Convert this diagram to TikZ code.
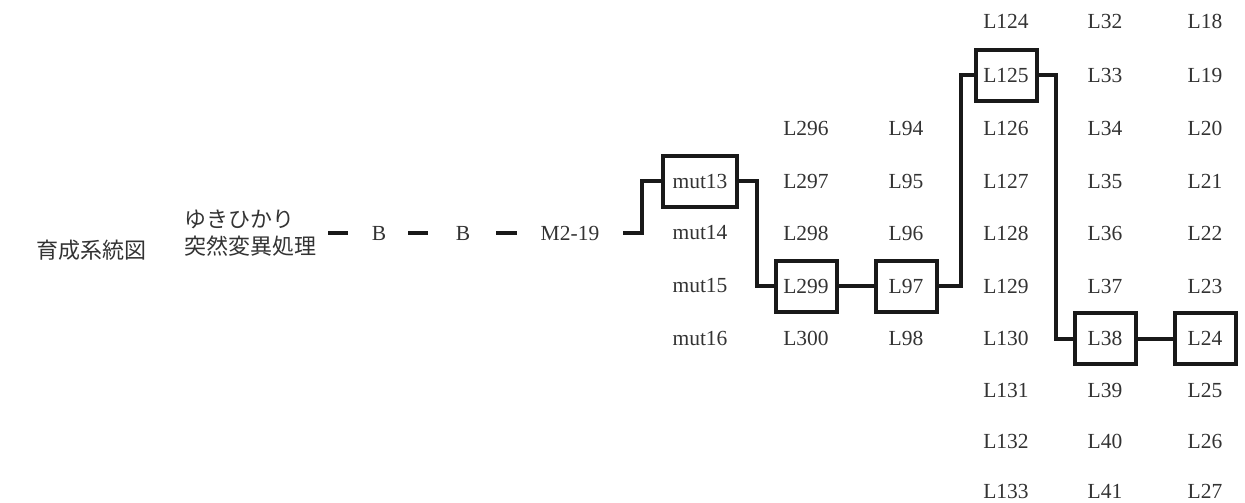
\documentclass[tikz,border=0pt]{standalone}
\usepackage{fontspec}
\setmainfont{Liberation Serif}
\newfontfamily\cjk{Noto Sans CJK JP}
\begin{document}
\begin{tikzpicture}[x=1pt,y=-1pt,
  lbl/.style={inner sep=0pt,text=black!80,font=\fontsize{21.5}{21.5}\selectfont},
  jp/.style={inner sep=0pt,text=black!80,font=\cjk\fontsize{22}{27}\selectfont},
  sel/.style={lbl,draw=black!90,line width=4pt,minimum width=61pt,minimum height=51pt},
  conn/.style={draw=black!90,line width=4pt},
  dsh/.style={draw=black!90,line width=4pt}]
\useasboundingbox (0,0) rectangle (1245,503);
% left texts
\node[jp] (title) at (91,250) {育成系統図};
\node[jp,align=left,anchor=west] (src) at (184,233) {ゆきひかり\\突然変異処理};
\node[lbl] (b1) at (379,233) {B};
\node[lbl] (b2) at (463,233) {B};
\node[lbl] (m219) at (570,233) {M2-19};
% column mut
\node[sel,minimum width=74pt] (mut13) at (700,181) {mut13};
\node[lbl] (mut14) at (700,233) {mut14};
\node[lbl] (mut15) at (700,286) {mut15};
\node[lbl] (mut16) at (700,338.5) {mut16};
% column L296
\node[lbl] (l296) at (806,128) {L296};
\node[lbl] (l297) at (806,181) {L297};
\node[lbl] (l298) at (806,233) {L298};
\node[sel] (l299) at (806,286) {L299};
\node[lbl] (l300) at (806,338.5) {L300};
% column L94
\node[lbl] (l94) at (906,128) {L94};
\node[lbl] (l95) at (906,181) {L95};
\node[lbl] (l96) at (906,233) {L96};
\node[sel] (l97) at (906,286) {L97};
\node[lbl] (l98) at (906,338.5) {L98};
% column L124
\node[lbl] (l124) at (1006,21) {L124};
\node[sel] (l125) at (1006,75.5) {L125};
\node[lbl] (l126) at (1006,128) {L126};
\node[lbl] (l127) at (1006,181) {L127};
\node[lbl] (l128) at (1006,233) {L128};
\node[lbl] (l129) at (1006,286) {L129};
\node[lbl] (l130) at (1006,338.5) {L130};
\node[lbl] (l131) at (1006,390) {L131};
\node[lbl] (l132) at (1006,441) {L132};
\node[lbl] (l133) at (1006,491) {L133};
% column L32
\node[lbl] (l32) at (1105,21) {L32};
\node[lbl] (l33) at (1105,75.5) {L33};
\node[lbl] (l34) at (1105,128) {L34};
\node[lbl] (l35) at (1105,181) {L35};
\node[lbl] (l36) at (1105,233) {L36};
\node[lbl] (l37) at (1105,286) {L37};
\node[sel] (l38) at (1105,338.5) {L38};
\node[lbl] (l39) at (1105,390) {L39};
\node[lbl] (l40) at (1105,441) {L40};
\node[lbl] (l41) at (1105,491) {L41};
% column L18
\node[lbl] (l18) at (1205,21) {L18};
\node[lbl] (l19) at (1205,75.5) {L19};
\node[lbl] (l20) at (1205,128) {L20};
\node[lbl] (l21) at (1205,181) {L21};
\node[lbl] (l22) at (1205,233) {L22};
\node[lbl] (l23) at (1205,286) {L23};
\node[sel] (l24) at (1205,338.5) {L24};
\node[lbl] (l25) at (1205,390) {L25};
\node[lbl] (l26) at (1205,441) {L26};
\node[lbl] (l27) at (1205,491) {L27};
% dashes
\draw[dsh,shorten <=12pt,shorten >=24pt] (src.east) -- (b1.west);
\draw[dsh,shorten <=22pt,shorten >=28pt] (b1.east) -- (b2.west);
\draw[dsh,shorten <=26pt,shorten >=24pt] (b2.east) -- (m219.west);
% connectors
\draw[conn,shorten <=24pt] (m219.east) -- ++(43,0) |- (mut13.west);
\draw[conn] (mut13.east) -- ++(18,0) |- (l299.west);
\draw[conn] (l299.east) -- (l97.west);
\draw[conn] (l97.east) -- ++(22,0) |- (l125.west);
\draw[conn] (l125.east) -- ++(17,0) |- (l38.west);
\draw[conn] (l38.east) -- (l24.west);
\end{tikzpicture}
\end{document}
